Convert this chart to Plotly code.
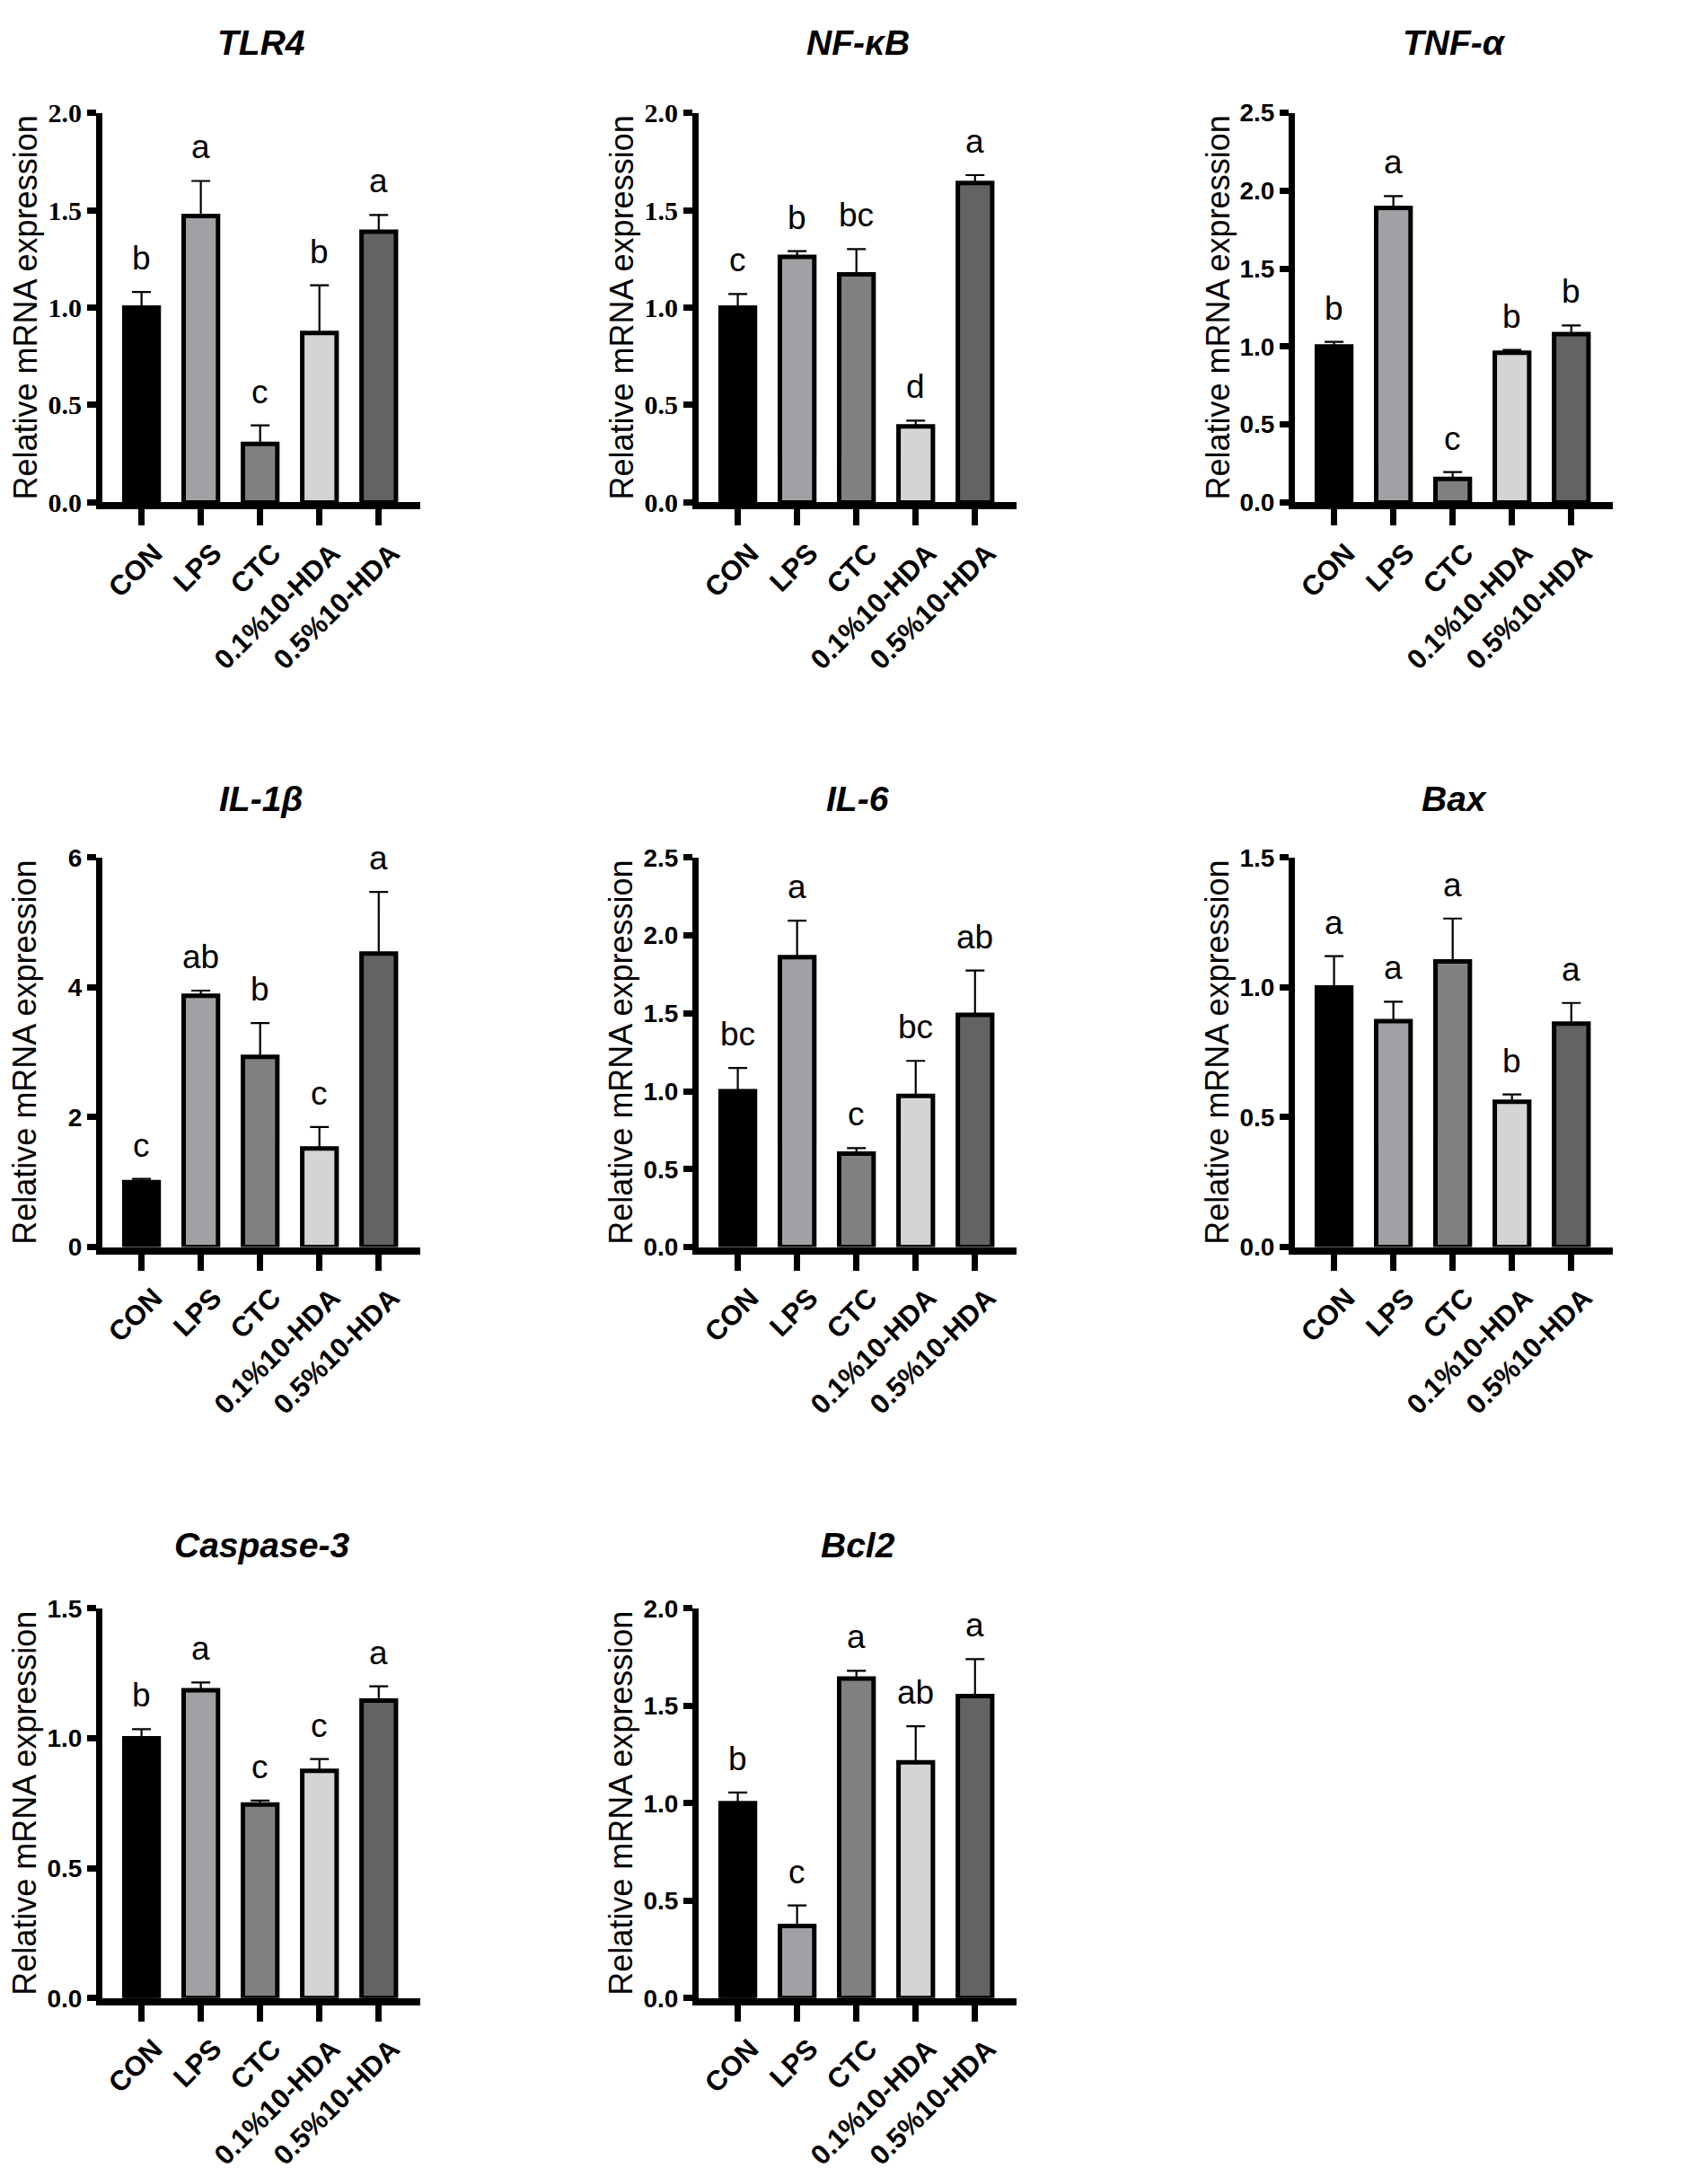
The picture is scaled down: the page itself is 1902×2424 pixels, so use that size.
import plotly.graph_objects as go

# groups and bar fills (same order in every panel)
groups = ["CON", "LPS", "CTC", "0.1%10-HDA", "0.5%10-HDA"]
bar_colors = ["#000000", "#a1a1a5", "#808080", "#d4d4d4", "#636363"]

# relative mRNA expression, mean and upper error (SEM)
tlr4_mean = [1.00, 1.47, 0.30, 0.87, 1.39]
tlr4_err = [0.08, 0.18, 0.095, 0.245, 0.085]
tlr4_sig = ["b", "a", "c", "b", "a"]

nfkb_mean = [1.00, 1.26, 1.17, 0.39, 1.64]
nfkb_err = [0.07, 0.03, 0.13, 0.03, 0.04]
nfkb_sig = ["c", "b", "bc", "d", "a"]

tnfa_mean = [1.00, 1.89, 0.15, 0.96, 1.08]
tnfa_err = [0.03, 0.075, 0.045, 0.018, 0.055]
tnfa_sig = ["b", "a", "c", "b", "b"]

il1b_mean = [1.00, 3.87, 2.93, 1.52, 4.52]
il1b_err = [0.05, 0.08, 0.52, 0.33, 0.95]
il1b_sig = ["c", "ab", "b", "c", "a"]

il6_mean = [1.00, 1.86, 0.60, 0.97, 1.49]
il6_err = [0.15, 0.235, 0.035, 0.225, 0.285]
il6_sig = ["bc", "a", "c", "bc", "ab"]

bax_mean = [1.00, 0.87, 1.10, 0.56, 0.86]
bax_err = [0.12, 0.075, 0.165, 0.028, 0.08]
bax_sig = ["a", "a", "a", "b", "a"]

casp3_mean = [1.00, 1.185, 0.745, 0.875, 1.145]
casp3_err = [0.035, 0.03, 0.015, 0.045, 0.055]
casp3_sig = ["b", "a", "c", "c", "a"]

bcl2_mean = [1.00, 0.37, 1.64, 1.21, 1.55]
bcl2_err = [0.055, 0.105, 0.04, 0.185, 0.19]
bcl2_sig = ["b", "c", "a", "ab", "a"]

SANS = "Liberation Sans"
SERIF = "Liberation Serif"

# title, mean, err, letters, y max, tick step, tick font, row, col
panels = [
    ("TLR4", tlr4_mean, tlr4_err, tlr4_sig, 2.0, 0.5, SERIF, 0, 0),
    ("NF-κB", nfkb_mean, nfkb_err, nfkb_sig, 2.0, 0.5, SERIF, 0, 1),
    ("TNF-α", tnfa_mean, tnfa_err, tnfa_sig, 2.5, 0.5, SANS, 0, 2),
    ("IL-1β", il1b_mean, il1b_err, il1b_sig, 6, 2, SANS, 1, 0),
    ("IL-6", il6_mean, il6_err, il6_sig, 2.5, 0.5, SANS, 1, 1),
    ("Bax", bax_mean, bax_err, bax_sig, 1.5, 0.5, SANS, 1, 2),
    ("Caspase-3", casp3_mean, casp3_err, casp3_sig, 1.5, 0.5, SANS, 2, 0),
    ("Bcl2", bcl2_mean, bcl2_err, bcl2_sig, 2.0, 0.5, SANS, 2, 1),
]

W, H = 1902, 2424
col_left = [106, 770, 1434]      # px, left edge of plot area
row_top = [102, 943, 1791]       # px, top of plot area
title_y = [23, 877, 1720]        # px, centre of panel title
pw, ph = 354, 440

fig = go.Figure()
annotations = []

for i, (name, mean, err, sig, ymax, step, tfont, r, c) in enumerate(panels):
    n = "" if i == 0 else str(i + 1)
    x0 = col_left[c]
    y0 = row_top[r]
    xdom = [x0 / W, (x0 + pw) / W]
    ydom = [1 - (y0 + ph) / H, 1 - y0 / H]

    fig.add_trace(go.Bar(
        x=groups, y=mean, width=0.58,
        marker=dict(color=bar_colors, line=dict(color="black", width=5)),
        error_y=dict(type="data", symmetric=False, array=err,
                     arrayminus=[0] * len(err), color="black",
                     thickness=2.2, width=10.5),
        xaxis="x" + n, yaxis="y" + n, showlegend=False,
    ))

    nt = int(round(ymax / step))
    tickvals = [k * step for k in range(nt + 1)]
    ticktext = [("%d" % v) if step >= 1 else ("%.1f" % v) for v in tickvals]

    fig.layout["xaxis" + n] = dict(
        domain=xdom, anchor="y" + n, type="category",
        range=[-0.66, 4.7], showline=True, linecolor="black", linewidth=8,
        ticks="outside", ticklen=18, tickwidth=7, tickcolor="black",
        tickangle=-45, ticklabelshift=14,
        showgrid=False, zeroline=False, fixedrange=True,
        tickfont=dict(family=SANS, size=31, color="black", weight="bold"),
    )
    fig.layout["yaxis" + n] = dict(
        domain=ydom, anchor="x" + n, range=[0, ymax],
        showline=True, linecolor="black", linewidth=7,
        ticks="outside", ticklen=10, tickwidth=7, tickcolor="black",
        tickvals=tickvals, ticktext=ticktext,
        showgrid=False, zeroline=False, fixedrange=True,
        tickfont=dict(family=tfont, size=30 if tfont == SERIF else 28,
                      color="black", weight="bold"),
    )

    # significance letters above the error bars
    for g, m, e, s in zip(groups, mean, err, sig):
        annotations.append(dict(
            x=g, y=m + e, xref="x" + n, yref="y" + n, text=s,
            showarrow=False, yanchor="bottom", yshift=15,
            font=dict(family=SANS, size=37, color="black"),
        ))

    # panel title
    annotations.append(dict(
        x=(x0 + pw / 2) / W, y=1 - title_y[r] / H, xref="paper", yref="paper",
        text="<b><i>%s</i></b>" % name, showarrow=False,
        xanchor="center", yanchor="middle",
        font=dict(family=SANS, size=39, color="black"),
    ))

    # y axis title
    annotations.append(dict(
        x=(x0 - 86) / W, y=1 - (y0 + ph / 2) / H, xref="paper", yref="paper",
        text="Relative mRNA expression", textangle=-90, showarrow=False,
        xanchor="center", yanchor="middle",
        font=dict(family=SANS, size=36, color="black"),
    ))

fig.update_layout(
    width=W, height=H, autosize=False,
    margin=dict(l=0, r=0, t=0, b=0),
    plot_bgcolor="white", paper_bgcolor="white",
    annotations=annotations,
)

fig.write_html("out.html")
